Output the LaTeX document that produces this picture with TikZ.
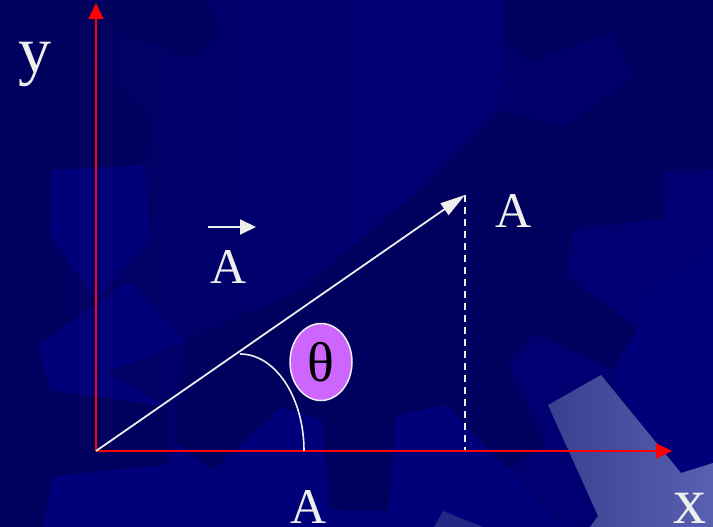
\documentclass[tikz,border=0pt]{standalone}
\usepackage{fontspec}
\setmainfont{Liberation Serif}
\usetikzlibrary{arrows.meta,shapes.geometric}
\definecolor{bgmid}{HTML}{000072}
\definecolor{bgdark}{HTML}{00005E}
\definecolor{bglight}{HTML}{00007B}
\definecolor{paleA}{HTML}{3A4090}
\definecolor{paleB}{HTML}{5860B0}
\definecolor{txt}{HTML}{EEEEEE}
\definecolor{axred}{HTML}{FF0000}
\definecolor{thetafill}{HTML}{CC66FF}
\tikzset{
  axis/.style={draw=axred, line width=2pt, -{Triangle[length=16pt,width=15pt]}},
  vec/.style={draw=txt, line width=1.8pt, -{Triangle[length=25pt,width=14pt]}},
  smallvec/.style={draw=txt, line width=2pt, -{Triangle[length=16pt,width=15pt]}},
  proj/.style={draw=txt, line width=1.8pt, dash pattern=on 7pt off 5pt},
  anglearc/.style={draw=txt, line width=1.6pt},
  lbl/.style={text=txt, inner sep=0pt, font=\fontsize{50}{50}\selectfont, anchor=base},
  axlbl/.style={text=txt, inner sep=0pt, font=\fontsize{66}{66}\selectfont, anchor=base},
  thetabox/.style={ellipse, fill=thetafill, draw=txt, line width=1.5pt, minimum width=62pt, minimum height=77pt, inner sep=0pt, font=\fontsize{56}{56}\selectfont, text=black}
}
\begin{document}
\begin{tikzpicture}[x=1pt,y=-1pt]
\useasboundingbox (0,0) rectangle (713,527);
% background
\shade[left color=bgdark, right color=bgmid, middle color=bgmid] (0,0) rectangle (713,527);
\fill[bgdark] (0,0) -- (207,0) -- (220,32) -- (195,58) -- (107,29) -- (88,62) -- (153,120) -- (145,165) -- (52,170) -- (50,235) -- (38,346) -- (50,390) -- (165,406) -- (167,465) -- (53,476) -- (43,527) -- (0,527) -- cycle;
\fill[bglight] (52,170) -- (145,165) -- (150,240) -- (96,300) -- (50,235) -- cycle;
\fill[bglight] (38,346) -- (128,281) -- (185,341) -- (107,373) -- (165,406) -- (50,390) -- cycle;
\fill[bgdark] (505,0) -- (713,0) -- (713,170) -- (661,172) -- (664,218) -- (573,230) -- (568,264) -- (566,276) -- (638,328) -- (613,370) -- (534,333) -- (508,366) -- (546,445) -- (508,470) -- (446,405) -- (396,416) -- (389,511) -- (330,510) -- (322,420) -- (282,407) -- (212,471) -- (175,443) -- (185,341) -- (300,290) -- (420,190) -- (500,110) -- (503,37) -- cycle;
\fill[bgmid!60!bgdark] (503,37) -- (529,62) -- (613,32) -- (633,77) -- (564,127) -- (500,110) -- cycle;
\fill[bglight] (713,250) -- (713,463) -- (681,473) -- (638,420) -- (613,370) -- (638,328) -- (640,300) -- cycle;
\fill[bglight] (396,416) -- (446,405) -- (508,470) -- (560,527) -- (389,527) -- (389,511) -- cycle;
\fill[bglight] (175,443) -- (212,471) -- (282,407) -- (322,420) -- (330,510) -- (389,511) -- (389,527) -- (43,527) -- (53,476) -- (167,465) -- cycle;
\shade[left color=paleA, right color=paleB] (548,405) -- (601,375) -- (681,473) -- (713,463) -- (713,527) -- (590,527) -- (598,516) -- cycle;
\fill[paleA!60!bgmid] (434,527) -- (443,511) -- (483,527) -- cycle;
% geometry
\coordinate (O) at (96,451);
\coordinate (ytip) at (96,3);
\coordinate (xtip) at (672,451);
\coordinate (P) at (465,195);
\coordinate (Pfoot) at (465,451);
\coordinate (arcstart) at (304,451);
\coordinate (sv1) at (208,227);
\coordinate (sv2) at (256,227);
\draw[proj] (P) -- (Pfoot);
\draw[axis] (O) -- (ytip);
\draw[axis] (O) -- (xtip);
\draw[vec] (O) -- (P);
\draw[anglearc] (arcstart) arc[start angle=0, end angle=-90, x radius=64, y radius=97];
\draw[smallvec] (sv1) -- (sv2);
% labels
\node[axlbl] (ylbl) at (35.5,73) {y};
\node[axlbl] (xlbl) at (690,523) {x};
\node[lbl] (Ax) at (309,523) {A};
\node[lbl] (Ay) at (513.5,227) {A};
\node[lbl] (Avec) at (228.5,283) {A};
\node[thetabox] (theta) at (321,362) {θ};
\end{tikzpicture}
\end{document}
